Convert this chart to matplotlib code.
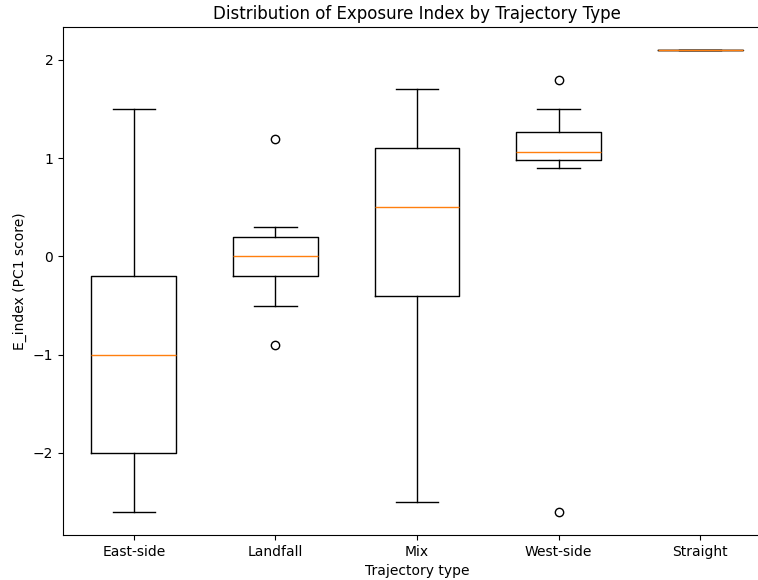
import matplotlib
matplotlib.use('Agg')
import matplotlib.pyplot as plt

# Box statistics
categories = ['East-side', 'Landfall', 'Mix', 'West-side', 'Straight']
medians = [-1.0, 0.0, 0.5, 1.06, 2.1]
q1 = [-2.0, -0.2, -0.4, 0.98, 2.1]
q3 = [-0.2, 0.2, 1.1, 1.27, 2.1]
whislo = [-2.6, -0.5, -2.5, 0.9, 2.1]
whishi = [1.5, 0.3, 1.7, 1.5, 2.1]
fliers = [[], [1.2, -0.9], [], [1.8, -2.6], []]

stats = []
for i, name in enumerate(categories):
    stats.append({
        'label': name,
        'med': medians[i],
        'q1': q1[i],
        'q3': q3[i],
        'whislo': whislo[i],
        'whishi': whishi[i],
        'fliers': fliers[i],
    })

fig = plt.figure(figsize=(7.58, 5.8), dpi=100)
# axes run a bit past the right edge, like the cropped original
ax = fig.add_axes([63 / 758, 45 / 580, 708 / 758, 508 / 580])

ax.bxp(stats, widths=0.6)

ax.set_title('Distribution of Exposure Index by Trajectory Type')
ax.set_xlabel('Trajectory type')
ax.set_ylabel('E_index (PC1 score)')

fig.savefig('out.png', dpi=100)
